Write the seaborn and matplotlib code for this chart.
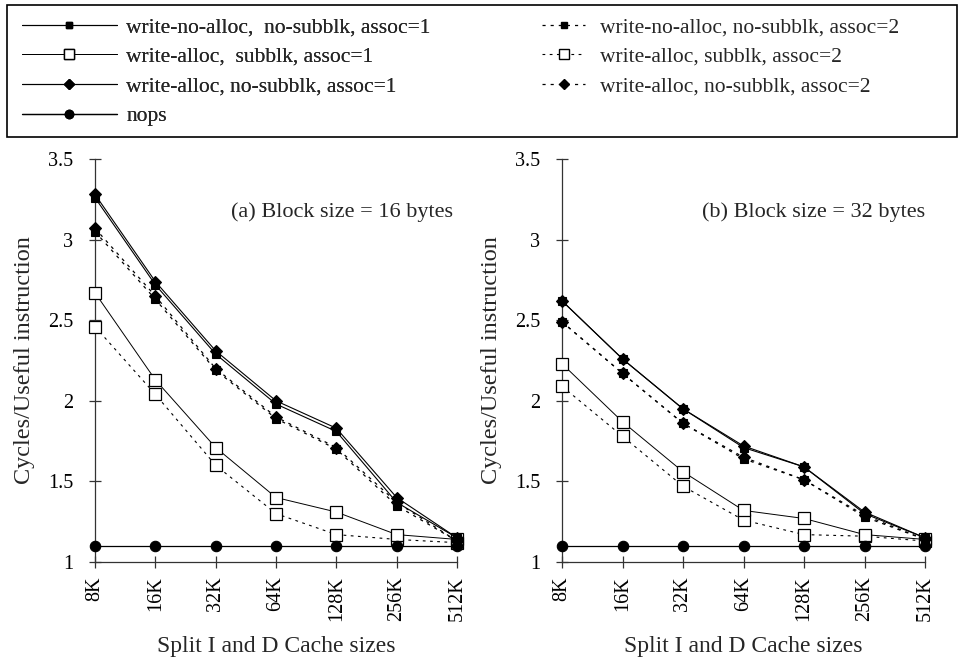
import matplotlib
matplotlib.use("Agg")
import matplotlib.pyplot as plt
from matplotlib.patches import Rectangle
from matplotlib.lines import Line2D
import seaborn as sns
import pandas as pd
import numpy as np

sns.set_theme(style="white")
plt.rcParams['font.family'] = ['Liberation Serif', 'DejaVu Serif']

sizes = ["8K", "16K", "32K", "64K", "128K", "256K", "512K"]

# (a) Block size = 16 bytes
a_wna1 = [3.26, 2.72, 2.29, 1.98, 1.81, 1.37, 1.15]
a_was1 = [2.67, 2.13, 1.71, 1.40, 1.31, 1.17, 1.14]
a_wan1 = [3.28, 2.74, 2.31, 2.00, 1.83, 1.40, 1.15]
a_wna2 = [3.05, 2.63, 2.19, 1.89, 1.70, 1.35, 1.13]
a_was2 = [2.46, 2.04, 1.60, 1.30, 1.17, 1.14, 1.12]
a_wan2 = [3.07, 2.65, 2.20, 1.90, 1.71, 1.37, 1.13]
a_nops = [1.10, 1.10, 1.10, 1.10, 1.10, 1.10, 1.10]

# (b) Block size = 32 bytes
b_wna1 = [2.62, 2.26, 1.95, 1.71, 1.59, 1.30, 1.15]
b_was1 = [2.23, 1.87, 1.56, 1.32, 1.27, 1.17, 1.14]
b_wan1 = [2.62, 2.26, 1.95, 1.72, 1.59, 1.31, 1.15]
b_wna2 = [2.49, 2.17, 1.86, 1.64, 1.51, 1.28, 1.14]
b_was2 = [2.09, 1.78, 1.47, 1.26, 1.17, 1.16, 1.13]
b_wan2 = [2.49, 2.17, 1.86, 1.65, 1.51, 1.29, 1.14]
b_nops = [1.10, 1.10, 1.10, 1.10, 1.10, 1.10, 1.10]

labels = {
    "wna1": "write-no-alloc,  no-subblk, assoc=1",
    "was1": "write-alloc,  subblk, assoc=1",
    "wan1": "write-alloc, no-subblk, assoc=1",
    "nops": "nops",
    "wna2": "write-no-alloc, no-subblk, assoc=2",
    "was2": "write-alloc, subblk, assoc=2",
    "wan2": "write-alloc, no-subblk, assoc=2",
}

SOLID = "-"
DASH = (0, (2.5, 4))
styles = {
    "wna1": dict(ls=SOLID, marker="s", ms=6, mfc="black", mec="black", lw=0.8),
    "was1": dict(ls=SOLID, marker="s", ms=8.5, mfc="white", mec="black", mew=0.9, lw=0.7),
    "wan1": dict(ls=SOLID, marker="D", ms=6, mfc="black", mec="black", lw=0.8),
    "nops": dict(ls=SOLID, marker="o", ms=7.5, mfc="black", mec="black", lw=0.9),
    "wna2": dict(ls=DASH, marker="s", ms=6, mfc="black", mec="black", lw=0.9),
    "was2": dict(ls=DASH, marker="s", ms=8.5, mfc="white", mec="black", mew=0.9, lw=0.8),
    "wan2": dict(ls=DASH, marker="D", ms=6, mfc="black", mec="black", lw=0.9),
}

panels = [
    dict(data={"wna1": a_wna1, "was1": a_was1, "wan1": a_wan1, "nops": a_nops,
               "wna2": a_wna2, "was2": a_was2, "wan2": a_wan2},
         title="(a) Block size = 16 bytes", tx=0.375, lx=-0.165),
    dict(data={"wna1": b_wna1, "was1": b_was1, "wan1": b_wan1, "nops": b_nops,
               "wna2": b_wna2, "was2": b_was2, "wan2": b_wan2},
         title="(b) Block size = 32 bytes", tx=0.385, lx=-0.165),
]

W, H = 960, 667
fig = plt.figure(figsize=(W / 100, H / 100), dpi=100)

def fx(px):
    return px / W

def fy(py):
    return 1 - py / H

ax_boxes = [
    (95, 457),
    (562, 925),
]
top_px, bot_px = 159, 562

pos = np.arange(len(sizes))
order = ["was2", "was1", "wna2", "wan2", "wna1", "wan1", "nops"]

for (x0, x1), panel in zip(ax_boxes, panels):
    ax = fig.add_axes([fx(x0), fy(bot_px), fx(x1) - fx(x0), fy(top_px) - fy(bot_px)])
    for key in order:
        df = pd.DataFrame({"pos": pos, "val": panel["data"][key]})
        st = styles[key]
        sns.lineplot(data=df, x="pos", y="val", ax=ax, color="black",
                     linestyle=st["ls"], linewidth=st["lw"], marker=st["marker"],
                     markersize=st["ms"], markerfacecolor=st["mfc"],
                     markeredgecolor=st["mec"], markeredgewidth=st.get("mew", 0.8),
                     clip_on=False, zorder=3)
    ax.set_xlim(0, len(sizes) - 1)
    ax.set_ylim(1, 3.5)
    ax.set_yticks([1, 1.5, 2, 2.5, 3, 3.5])
    ax.set_yticklabels(["1", "1.5", "2", "2.5", "3", "3.5"], fontsize=14.5)
    ax.set_xticks(pos)
    ax.set_xticklabels(sizes, rotation=90, fontsize=14.5)
    for s in ["top", "right"]:
        ax.spines[s].set_visible(False)
    for s in ["left", "bottom"]:
        ax.spines[s].set_color("#333333")
        ax.spines[s].set_linewidth(0.9)
    ax.tick_params(axis="both", direction="inout", length=9, width=0.9, color="#333333",
                   labelcolor="black", pad=6, left=True, bottom=True)
    ax.tick_params(axis="y", pad=11)
    ax.set_xlabel("Split I and D Cache sizes", fontsize=17)
    ax.xaxis.set_label_coords(0.5, -0.184)
    ax.set_ylabel("Cycles/Useful instruction", fontsize=17.5)
    ax.yaxis.set_label_coords(panel["lx"], 0.5)
    ax.grid(False)
    ax.set_facecolor("white")
    ax.text(panel["tx"], 0.868, panel["title"], transform=ax.transAxes,
            fontsize=16, ha="left", va="center")

def handle(key):
    st = styles[key]
    return Line2D([], [], color="black", linestyle=st["ls"], linewidth=st["lw"],
                  marker=st["marker"], markersize=st["ms"] * 0.8,
                  markerfacecolor=st["mfc"], markeredgecolor=st["mec"])

col1 = ["wna1", "was1", "wan1", "nops"]
col2 = ["wna2", "was2", "wan2"]
leg1 = fig.legend([handle(k) for k in col1], [labels[k] for k in col1],
                  loc="upper left", bbox_to_anchor=(fx(22), fy(17)), frameon=False,
                  fontsize=15.5, handlelength=4.4, handletextpad=0.45,
                  labelspacing=0.45, borderpad=0, borderaxespad=0)
leg2 = fig.legend([handle(k) for k in col2], [labels[k] for k in col2],
                  loc="upper left", bbox_to_anchor=(fx(542), fy(17)), frameon=False,
                  fontsize=15.5, handlelength=2.0, handletextpad=0.7,
                  labelspacing=0.45, borderpad=0, borderaxespad=0)
fig.add_artist(leg1)

fig.patches.append(Rectangle((fx(7), fy(137)), fx(957) - fx(7), fy(5) - fy(137),
                             transform=fig.transFigure, fill=False,
                             edgecolor="black", linewidth=1.2))

fig.savefig("out.png", dpi=100, facecolor="white")
